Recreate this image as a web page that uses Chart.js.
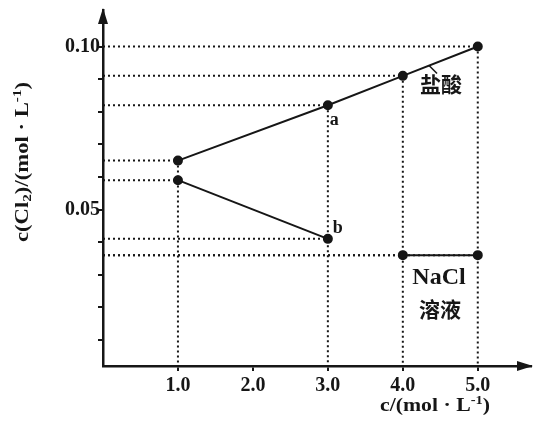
<!DOCTYPE html>
<html>
<head>
<meta charset="utf-8">
<script src="https://cdn.jsdelivr.net/npm/chart.js@4.4.1/dist/chart.umd.min.js"></script>
<style>
html, body { margin: 0; padding: 0; background: #fff; }
#wrap { width: 537px; height: 423px; }
</style>
</head>
<body>
<div id="wrap"><canvas id="chart"></canvas></div>
<script>
// values
const conc = [1.0, 3.0, 4.0, 5.0];
const hclCl2 = [0.065, 0.082, 0.091, 0.100];
const naclCl2 = [0.059, 0.041, 0.036, 0.036];
const xTicks = [1, 2, 3, 4, 5];
const xTickLabels = ['1.0', '2.0', '3.0', '4.0', '5.0'];
const yTicks = [0.01, 0.02, 0.03, 0.04, 0.05, 0.06, 0.07, 0.08, 0.09, 0.10];
const yTickLabels = ['', '', '', '', '0.05', '', '', '', '', '0.10'];

const INK = '#161616';
const SERIF = '"Liberation Serif", "DejaVu Serif", serif';
const CJK = '"Noto Sans CJK SC", sans-serif';
const Y_MIN = 0.002;

function pts(ys) {
    return conc.map((c, i) => ({ x: c, y: ys[i] }));
}

// dotted guide lines from every point to the two axes
const guides = [];
[hclCl2, naclCl2].forEach(ys => {
    ys.forEach((v, i) => {
        guides.push([{ x: 0, y: v }, { x: conc[i], y: v }]);
    });
});
conc.forEach((c, i) => {
    const top = Math.max(hclCl2[i], naclCl2[i]);
    guides.push([{ x: c, y: top }, { x: c, y: Y_MIN }]);
});

const datasets = guides.map(g => ({
    data: g,
    showLine: true,
    borderColor: INK,
    borderWidth: 2,
    borderDash: [2, 3],
    pointRadius: 0,
    order: 2
}));
datasets.push({
    label: '盐酸',
    data: pts(hclCl2),
    showLine: true,
    borderColor: INK,
    backgroundColor: INK,
    borderWidth: 2,
    pointRadius: 4,
    order: 0
});
datasets.push({
    label: 'NaCl溶液',
    data: pts(naclCl2),
    showLine: true,
    borderColor: INK,
    backgroundColor: INK,
    borderWidth: 2,
    pointRadius: 4,
    segment: {
        borderColor: ctx => ctx.p0DataIndex === 1 ? 'rgba(0,0,0,0)' : INK
    },
    order: 0
});

// text with sub/superscripts, stretched to a given width
function richText(ctx, parts, x, y, size, width) {
    const big = 'bold ' + size + 'px ' + SERIF;
    const small = 'bold ' + Math.round(size * 0.65) + 'px ' + SERIF;
    let w = 0;
    parts.forEach(p => { ctx.font = p[1] ? small : big; w += ctx.measureText(p[0]).width; });
    ctx.save();
    ctx.translate(x - width / 2, y);
    ctx.scale(width / w, 1);
    let cx = 0;
    ctx.textAlign = 'left';
    ctx.textBaseline = 'middle';
    parts.forEach(p => {
        ctx.font = p[1] ? small : big;
        ctx.fillText(p[0], cx, p[1] * size);
        cx += ctx.measureText(p[0]).width;
    });
    ctx.restore();
}

const decor = {
    id: 'decor',
    afterDraw(chart) {
        const { ctx, chartArea: a, scales: { x, y } } = chart;
        ctx.save();
        ctx.fillStyle = INK;
        ctx.strokeStyle = INK;

        // arrow heads
        ctx.beginPath();
        ctx.moveTo(a.left, a.top - 2);
        ctx.lineTo(a.left - 5, a.top + 14);
        ctx.lineTo(a.left + 5, a.top + 14);
        ctx.closePath();
        ctx.fill();
        ctx.beginPath();
        ctx.moveTo(a.right + 2, a.bottom);
        ctx.lineTo(a.right - 14, a.bottom - 5);
        ctx.lineTo(a.right - 14, a.bottom + 5);
        ctx.closePath();
        ctx.fill();

        // axis titles
        ctx.save();
        ctx.translate(23, 162);
        ctx.rotate(-Math.PI / 2);
        richText(ctx, [['c(Cl', 0], ['2', 0.3], [')/(mol · L', 0], ['-1', -0.3], [')', 0]], 0, 0, 18, 160);
        ctx.restore();
        richText(ctx, [['c/(mol · L', 0], ['-1', -0.3], [')', 0]], 435, 406, 18, 110);

        // point names
        ctx.font = 'bold 18px ' + SERIF;
        ctx.textAlign = 'left';
        ctx.textBaseline = 'middle';
        ctx.fillText('a', x.getPixelForValue(conc[1]) + 2, y.getPixelForValue(hclCl2[1]) + 15);
        ctx.fillText('b', x.getPixelForValue(conc[1]) + 5, y.getPixelForValue(naclCl2[1]) - 11);

        // series names
        ctx.textAlign = 'center';
        ctx.font = 'bold 21px ' + CJK;
        ctx.fillText('盐酸', 441, 84);
        ctx.fillText('溶液', 440, 309);
        ctx.font = 'bold 24px ' + SERIF;
        ctx.fillText('NaCl', 439, 278);

        // leader for 盐酸
        const lx = x.getPixelForValue(4.35), ly = y.getPixelForValue(0.0942);
        ctx.lineWidth = 1.5;
        ctx.beginPath();
        ctx.moveTo(lx, ly);
        ctx.lineTo(lx + 8, ly + 8);
        ctx.stroke();
        ctx.restore();
    }
};

new Chart(document.getElementById('chart'), {
    type: 'scatter',
    data: { datasets },
    options: {
        responsive: true,
        maintainAspectRatio: false,
        animation: false,
        layout: { padding: { top: 10, right: 2, left: 0, bottom: 0 } },
        plugins: { legend: { display: false }, tooltip: { enabled: false } },
        scales: {
            x: {
                type: 'linear',
                min: 0,
                max: 5.71,
                afterBuildTicks: s => { s.ticks = xTicks.map(v => ({ value: v })); },
                afterFit: s => { s.height = 57; },
                border: { display: true, color: INK, width: 2.5 },
                grid: { display: true, drawOnChartArea: false, color: INK, lineWidth: 2, tickLength: 5 },
                ticks: {
                    color: INK,
                    padding: 3,
                    font: { family: SERIF, size: 20, weight: 'bold' },
                    callback: (v, i) => xTickLabels[i]
                }
            },
            y: {
                type: 'linear',
                min: Y_MIN,
                max: 0.1112,
                afterBuildTicks: s => { s.ticks = yTicks.map(v => ({ value: v })); },
                afterFit: s => { s.width = 103; },
                border: { display: true, color: INK, width: 2.5 },
                grid: { display: true, drawOnChartArea: false, color: INK, lineWidth: 2, tickLength: 5 },
                ticks: {
                    color: INK,
                    padding: -2,
                    font: { family: SERIF, size: 20, weight: 'bold' },
                    callback: (v, i) => yTickLabels[i]
                }
            }
        }
    },
    plugins: [decor]
});
</script>
</body>
</html>
